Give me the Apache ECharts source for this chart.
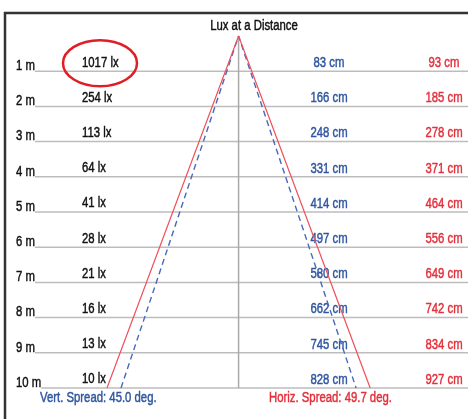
<!DOCTYPE html>
<html>
<head>
<meta charset="utf-8">
<script src="https://cdn.jsdelivr.net/npm/echarts@6/dist/echarts.min.js"></script>
<style>
  html, body { margin: 0; padding: 0; background: #fff; }
  #chart { width: 468px; height: 419px; }
</style>
</head>
<body>
<div id="chart"></div>
<script>
// distance in metres, illuminance and beam width at each distance
const distances = [1, 2, 3, 4, 5, 6, 7, 8, 9, 10]
const luxValues = [1017, 254, 113, 64, 41, 28, 21, 16, 13, 10]
const vertWidths = [83, 166, 248, 331, 414, 497, 580, 662, 745, 828]
const horizWidths = [93, 185, 278, 371, 464, 556, 649, 742, 834, 927]
const vertSpread = 45.0
const horizSpread = 49.7

const red = '#e3303c'
const redLine = '#f0505a'
const blue = '#2f56a0'
const blueLine = '#4a68b8'
const font = 'Liberation Sans, Arial, sans-serif'
const sx = 0.81

const last = distances.length - 1
const rows = distances.map((d, i) => [d, luxValues[i], vertWidths[i], horizWidths[i]])

// text is squeezed sideways like the source picture, with a hairline stroke to thicken it
function textStyle (text, color, align, bg) {
  return {
    text: text,
    fill: color,
    stroke: color,
    lineWidth: 0.45,
    fontSize: 14,
    fontFamily: font,
    textAlign: align,
    textVerticalAlign: 'middle',
    backgroundColor: bg || null
  }
}

function txt (x, y, text, color, align, bg) {
  return { type: 'text', x: x, y: y, scaleX: sx, style: textStyle(text, color, align, bg) }
}

function renderRow (params, api) {
  const d = api.value(0)
  const y = api.coord([0, d])[1]
  const cs = params.coordSys
  const children = [
    {
      type: 'line',
      shape: { x1: cs.x, y1: y, x2: cs.x + cs.width, y2: y },
      style: { stroke: '#bdbdbd', lineWidth: 1.5 }
    },
    txt(16, y - 5, d + ' m', '#111', 'left', '#fff'),
    txt(82, y - 8.5, api.value(1) + ' lx', '#111', 'left'),
    txt(329, y - 8, api.value(2) + ' cm', blue, 'center'),
    txt(444, y - 8, api.value(3) + ' cm', red, 'center')
  ]
  if (params.dataIndex === 0) {
    // highlight ring round the 1 m reading
    children.push({
      type: 'ellipse',
      shape: { cx: 100, cy: y - 8, rx: 37, ry: 23 },
      style: { fill: null, stroke: '#e01e26', lineWidth: 2.5 }
    })
  }
  return { type: 'group', children: children }
}

const hw = horizWidths[last] / 2
const vw = vertWidths[last] / 2
const maxD = distances[last]

const option = {
  animation: false,
  grid: { left: 33, right: 0, top: 36, bottom: 31 },
  xAxis: { type: 'value', min: -724, max: 808, show: false },
  yAxis: { type: 'value', min: 0, max: maxD, inverse: true, show: false },
  graphic: [
    { type: 'line', shape: { x1: 4, y1: 13, x2: 468, y2: 13 }, style: { stroke: '#333', lineWidth: 2.5 } },
    { type: 'line', shape: { x1: 5, y1: 12, x2: 5, y2: 419 }, style: { stroke: '#333', lineWidth: 2.5 } },
    { type: 'text', x: 254, y: 26, scaleX: sx, style: textStyle('Lux at a Distance', '#111', 'center') },
    { type: 'text', x: 40, y: 398, scaleX: sx, style: textStyle('Vert. Spread: ' + vertSpread.toFixed(1) + ' deg.', blue, 'left') },
    { type: 'text', x: 269, y: 398, scaleX: sx, style: textStyle('Horiz. Spread: ' + horizSpread.toFixed(1) + ' deg.', red, 'left') }
  ],
  series: [
    {
      type: 'custom',
      renderItem: renderRow,
      data: rows,
      silent: true,
      z: 1
    },
    {
      type: 'line',
      data: [[0, 0], [0, maxD]],
      symbol: 'none',
      lineStyle: { color: '#aaa', width: 1.5 },
      z: 2
    },
    {
      type: 'line',
      data: [[-vw, maxD], [0, 0], [vw, maxD]],
      symbol: 'none',
      lineStyle: { color: blueLine, width: 1.4, type: [6, 4] },
      z: 3
    },
    {
      type: 'line',
      data: [[-hw, maxD], [0, 0], [hw, maxD]],
      symbol: 'none',
      lineStyle: { color: redLine, width: 1.2 },
      z: 4
    }
  ]
}

const myChart = echarts.init(document.getElementById('chart'))
myChart.setOption(option)
</script>
</body>
</html>
